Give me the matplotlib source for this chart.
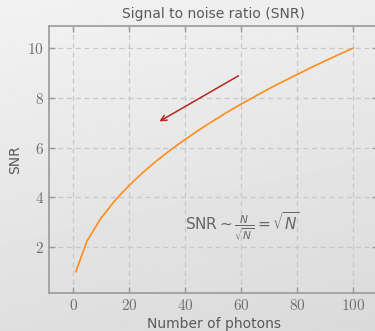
import numpy as np
import matplotlib
matplotlib.use('Agg')
import matplotlib.pyplot as plt
from matplotlib.ticker import FuncFormatter

photons = [1, 5, 10, 15, 20, 25, 30, 35, 40, 45, 50, 55, 60, 65, 70, 75, 80, 85, 90, 95, 100]
snr = [1.00, 2.24, 3.16, 3.87, 4.47, 5.00, 5.48, 5.92, 6.32, 6.71, 7.07,
       7.42, 7.75, 8.06, 8.37, 8.66, 8.94, 9.22, 9.49, 9.75, 10.00]
x_ticks = [0, 20, 40, 60, 80, 100]
y_ticks = [2, 4, 6, 8, 10]

text_col = '#5a5a5a'
spine_col = '#9a9a9a'

fig = plt.figure(figsize=(3.75, 3.31), dpi=100)

# gradient background
bg = fig.add_axes([0, 0, 1, 1], zorder=-10)
grad = np.linspace(0, 1, 256)[:, None] * np.ones((1, 256))
horiz = np.linspace(0, 1, 256)[None, :]
shade = 0.95 - 0.075 * grad - 0.02 * horiz
bg.imshow(shade, cmap='gray', vmin=0, vmax=1, aspect='auto', extent=[0, 1, 0, 1])
bg.axis('off')

ax = fig.add_axes([0.1307, 0.1148, 0.8773, 0.8067])
ax.patch.set_alpha(0)

ax.plot(photons, snr, color='#ff8c1a', lw=1.2)
ax.annotate('', xy=(30, 7.0), xytext=(60, 8.95),
            arrowprops=dict(arrowstyle='->', color='#b5281e', lw=1.1))
ax.text(40, 2.85, r'$\mathsf{SNR} \sim \frac{N}{\sqrt{N}} = \sqrt{N}$',
        color='#666666', fontsize=11, va='center', ha='left',
        math_fontfamily='dejavusans')

ax.set_xlim(-8.6, 109)
ax.set_ylim(0.14, 10.9)
ax.set_xticks(x_ticks)
ax.set_yticks(y_ticks)
fmt = FuncFormatter(lambda v, p: r'$%d$' % v)
ax.xaxis.set_major_formatter(fmt)
ax.yaxis.set_major_formatter(fmt)
for lab in ax.get_xticklabels() + ax.get_yticklabels():
    lab.set_math_fontfamily('cm')
    lab.set_fontsize(11)
ax.tick_params(direction='in', length=4, width=1, colors=spine_col,
               labelcolor='#707070', top=True, right=True)
for s in ax.spines.values():
    s.set_color(spine_col)
    s.set_linewidth(1.2)
ax.grid(True, linestyle=(0, (4, 3)), color='#c8c8c8', lw=0.9)
ax.set_axisbelow(True)

ax.set_title('Signal to noise ratio (SNR)', color=text_col, fontsize=10, pad=6)
ax.set_xlabel('Number of photons', color=text_col, fontsize=10, labelpad=3)
ax.set_ylabel('SNR', color=text_col, fontsize=10)

fig.savefig('out.png', dpi=100)
